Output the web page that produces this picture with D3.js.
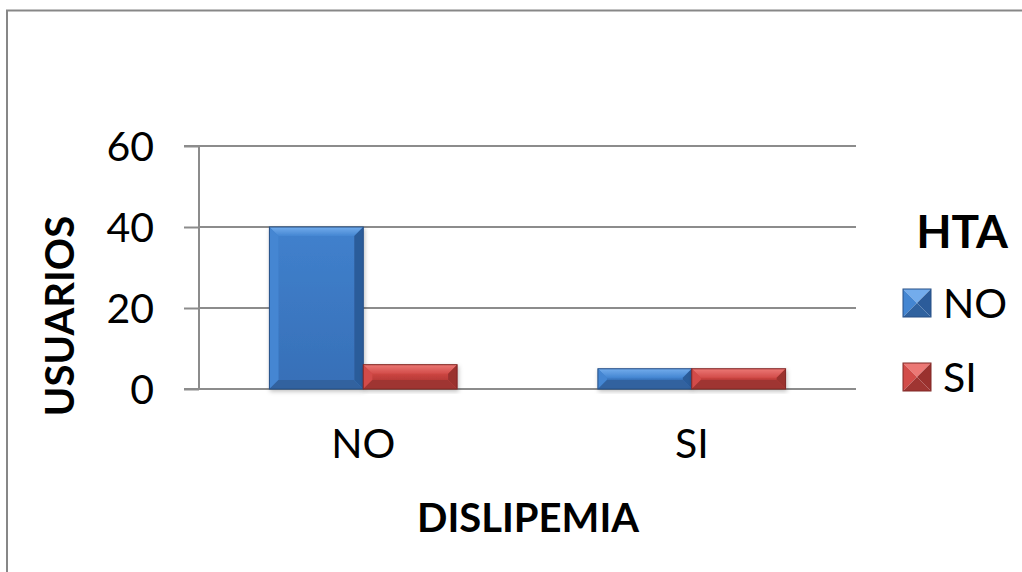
<!DOCTYPE html>
<html>
<head>
<meta charset="utf-8">
<script src="https://cdn.jsdelivr.net/npm/d3@7/dist/d3.min.js"></script>
<style>
  html, body { margin: 0; padding: 0; background: #ffffff; }
  svg { display: block; }
  text { font-family: Lato, "Open Sans", sans-serif; fill: #000; }
</style>
</head>
<body>
<svg id="chart" width="1022" height="572"></svg>
<script>
// Dislipemia groups on the x axis, HTA status as series
const categories = ["NO", "SI"];
const seriesNames = ["NO", "SI"];
const htaNo = [40, 5];
const htaSi = [6, 5];
const yTicks = [0, 20, 40, 60];
const xTitle = "DISLIPEMIA";
const yTitle = "USUARIOS";
const legendTitle = "HTA";

const palette = {
  NO: { face: "#4080cc", faceDark: "#3770b8", top: "#73acec", left: "#4486d2", right: "#2c5c9a", bottom: "#30629f", edge: "#264f85" },
  SI: { face: "#cc4541", faceDark: "#b83b38", top: "#ec7875", left: "#d24c49", right: "#9a312e", bottom: "#9f3532", edge: "#802826" }
};

const svg = d3.select("#chart");
const W = 1022, H = 572;
const plot = { left: 199, right: 856, top: 146, bottom: 389 };

const rows = categories.map((c, i) => ({ cat: c, NO: htaNo[i], SI: htaSi[i] }));

const x0 = d3.scaleBand().domain(categories).range([plot.left, plot.right]).padding(0);
const x1 = d3.scaleBand().domain(seriesNames).range([0, x0.bandwidth()]).paddingInner(0).paddingOuter(0.75);
const y = d3.scaleLinear().domain([0, 60]).range([plot.bottom, plot.top]);

// outer frame (chart area border)
svg.append("path")
  .attr("d", `M7,${H + 10} L7,10.5 L${W + 10},10.5`)
  .attr("fill", "none").attr("stroke", "#878787").attr("stroke-width", 2);

// horizontal gridlines
svg.append("g").selectAll("line").data(yTicks).join("line")
  .attr("x1", plot.left).attr("x2", plot.right)
  .attr("y1", d => y(d)).attr("y2", d => y(d))
  .attr("stroke", "#8c8c8c").attr("stroke-width", 2);

// y axis with outward ticks
const yAxis = d3.axisLeft(y).tickValues(yTicks).tickSize(15).tickPadding(30).tickFormat(d3.format("d"));
const gy = svg.append("g").attr("transform", `translate(${plot.left},0)`).call(yAxis);
gy.select(".domain").attr("stroke", "#8c8c8c").attr("stroke-width", 2).attr("d", `M-15,${y(60)}H0V${y(0)}H-15`);
gy.selectAll(".tick line").attr("stroke", "#8c8c8c").attr("stroke-width", 2);
gy.selectAll(".tick text").attr("font-size", 41).attr("font-family", "Lato").attr("fill", "#000").attr("dy", "0.36em");

// x category labels
const xAxis = d3.axisBottom(x0).tickSize(0).tickPadding(48);
const gx = svg.append("g").attr("transform", `translate(0,${plot.bottom})`).call(xAxis);
gx.select(".domain").remove();
gx.selectAll(".tick text").attr("font-size", 41).attr("font-family", "Lato").attr("fill", "#000").attr("dy", "0.5em");

// bevelled bar drawing
function bevelBar(g, bx, by, bw, bh, c) {
  const b = Math.min(9, bh / 2.2, bw / 2);
  g.append("rect").attr("x", bx).attr("y", by).attr("width", bw).attr("height", bh)
    .attr("fill", c.face);
  g.append("rect").attr("x", bx + b).attr("y", by + b).attr("width", bw - 2 * b).attr("height", Math.max(0, bh - 2 * b))
    .attr("fill", `url(#grad-${c.id})`);
  const poly = (pts, fill) => g.append("polygon").attr("points", pts.map(p => p.join(",")).join(" ")).attr("fill", fill);
  poly([[bx, by], [bx + bw, by], [bx + bw - b, by + b], [bx + b, by + b]], `url(#top-${c.id})`);
  poly([[bx, by], [bx + b, by + b], [bx + b, by + bh - b], [bx, by + bh]], c.left);
  poly([[bx + bw, by], [bx + bw, by + bh], [bx + bw - b, by + bh - b], [bx + bw - b, by + b]], c.right);
  poly([[bx, by + bh], [bx + b, by + bh - b], [bx + bw - b, by + bh - b], [bx + bw, by + bh]], c.bottom);
  g.append("rect").attr("x", bx).attr("y", by).attr("width", bw).attr("height", bh)
    .attr("fill", "none").attr("stroke", c.edge).attr("stroke-width", 1);
}

const defs = svg.append("defs");
seriesNames.forEach(s => {
  palette[s].id = s;
  const gr = defs.append("linearGradient").attr("id", `grad-${s}`).attr("x1", 0).attr("y1", 0).attr("x2", 0).attr("y2", 1);
  gr.append("stop").attr("offset", "0%").attr("stop-color", palette[s].face);
  gr.append("stop").attr("offset", "100%").attr("stop-color", palette[s].faceDark);
  const gt = defs.append("linearGradient").attr("id", `top-${s}`).attr("x1", 0).attr("y1", 0).attr("x2", 0).attr("y2", 1);
  gt.append("stop").attr("offset", "0%").attr("stop-color", palette[s].top);
  gt.append("stop").attr("offset", "100%").attr("stop-color", palette[s].left);
});
defs.append("filter").attr("id", "shadow").attr("x", "-10%").attr("y", "-10%").attr("width", "130%").attr("height", "130%")
  .append("feDropShadow").attr("dx", 1).attr("dy", 2).attr("stdDeviation", 2).attr("flood-color", "#000").attr("flood-opacity", 0.25);

const barsG = svg.append("g");
rows.forEach(r => {
  seriesNames.forEach(s => {
    const g = barsG.append("g").attr("filter", "url(#shadow)");
    const bx = x0(r.cat) + x1(s);
    bevelBar(g, bx, y(r[s]), x1.bandwidth(), y(0) - y(r[s]), palette[s]);
  });
});

// axis titles
svg.append("text").attr("x", 528).attr("y", 532).attr("text-anchor", "middle")
  .attr("font-size", 40).attr("font-weight", 700).text(xTitle);
svg.append("text").attr("transform", "translate(74,316) rotate(-90)").attr("text-anchor", "middle")
  .attr("font-size", 40).attr("font-weight", 700).text(yTitle);

// legend
const lg = svg.append("g");
lg.append("text").attr("x", 962).attr("y", 248).attr("text-anchor", "middle")
  .attr("font-size", 46).attr("font-weight", 700).text(legendTitle);
const legendY = d3.scalePoint().domain(seriesNames).range([303, 377]);
seriesNames.forEach(s => {
  const cy = legendY(s), c = palette[s], sz = 28, lx = 903, ly = cy - sz / 2;
  const cx = lx + sz / 2, cyy = ly + sz / 2;
  const tri = (pts, fill) => lg.append("polygon").attr("points", pts.map(p => p.join(",")).join(" ")).attr("fill", fill);
  tri([[lx, ly], [lx + sz, ly], [cx, cyy]], c.top);
  tri([[lx, ly], [cx, cyy], [lx, ly + sz]], c.left);
  tri([[lx + sz, ly], [lx + sz, ly + sz], [cx, cyy]], c.right);
  tri([[lx, ly + sz], [cx, cyy], [lx + sz, ly + sz]], c.bottom);
  lg.append("rect").attr("x", lx).attr("y", ly).attr("width", sz).attr("height", sz)
    .attr("fill", "none").attr("stroke", c.edge).attr("stroke-width", 1);
  lg.append("text").attr("x", 943).attr("y", cy + 14.5).attr("font-size", 41).text(s);
});
</script>
</body>
</html>
